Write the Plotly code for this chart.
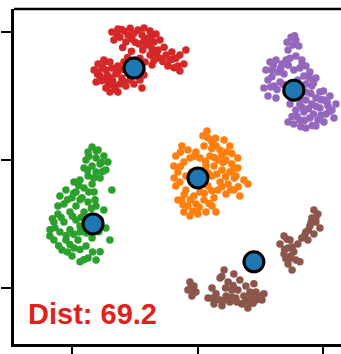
import plotly.graph_objects as go

# ---- cluster members (x, y) ----
red_x = [-3.43, -3.19, -2.95, -3.11, -3.35, -2.79, -2.87, -2.63, -2.39, -2.15, -1.91, -2.23, -1.99,
         -1.67, -1.75, -1.51, -2.07, -2.35, -1.83, -1.59, -1.35, -1.27, -1.04, -1.12, -0.88, -0.72,
         -0.56, -0.80, -1.20, -1.51, -1.91, -2.11, -2.31, -1.83, -0.72, -0.48, -4.14, -3.98, -3.75,
         -3.51, -3.90, -3.67, -3.43, -3.19, -2.95, -4.06, -3.75, -3.51, -3.27, -3.03, -2.79, -3.67,
         -3.35, -3.11, -2.87, -2.71, -3.19, -3.51, -2.31, -2.15, -2.55, -2.47, -2.23, -3.98, -2.23,
         -3.80, -3.60, -3.40, -3.20, -3.00, -2.60, -2.40, -3.85, -3.30, -2.95, -3.55, -4.00, -3.25,
         -3.05, -2.55, -2.70, -2.50, -2.15, -1.85, -1.95, -2.20, -1.65, -1.40, -1.00, -0.95, -1.75,
         -2.65, -3.00, -2.80, -3.70]
red_y = [5.00, 5.12, 5.04, 4.80, 4.69, 4.88, 4.61, 4.73, 5.08, 5.16, 5.04, 4.88, 4.77,
         4.92, 4.61, 4.69, 4.49, 4.53, 4.34, 4.30, 4.41, 4.10, 4.22, 3.91, 3.98, 4.10,
         3.75, 3.67, 3.67, 3.98, 4.10, 3.83, 3.98, 3.71, 3.48, 4.30, 3.52, 3.75, 3.91,
         3.83, 3.28, 3.52, 3.59, 3.67, 3.83, 3.05, 3.13, 3.20, 3.36, 3.20, 3.44, 2.81,
         2.89, 2.97, 2.89, 3.13, 2.66, 2.66, 3.13, 3.32, 2.97, 3.91, 3.52, 3.44, 2.81,
         3.60, 3.30, 3.10, 3.45, 3.55, 3.30, 3.70, 3.10, 2.75, 3.05, 2.95, 3.35, 4.95,
         5.10, 4.95, 5.15, 4.60, 4.65, 4.85, 4.50, 4.30, 4.15, 3.85, 3.95, 3.60, 3.90,
         4.25, 4.40, 4.00, 3.85]

purple_x = [3.71, 3.90, 3.78, 4.02, 3.59, 2.87, 3.11, 3.35, 2.71, 2.95, 3.19, 3.51, 3.67, 3.90,
            4.14, 4.30, 4.06, 3.82, 3.43, 2.79, 2.63, 3.03, 3.27, 2.79, 3.11, 3.51, 4.22, 4.46,
            4.70, 4.54, 4.30, 4.86, 4.70, 5.02, 5.26, 5.50, 5.34, 5.10, 4.86, 4.54, 4.30, 4.06,
            3.90, 4.22, 4.46, 4.78, 5.02, 4.06, 3.82, 4.30, 4.70, 4.06, 3.67, 5.18, 5.42, 3.98,
            4.30, 3.75, 3.59,
            3.55, 3.85, 3.00, 3.30, 3.60, 4.15, 4.45, 4.60, 2.95, 3.15, 3.40, 4.10, 4.50, 4.90,
            5.15, 4.70, 4.40, 4.15, 3.95, 4.25, 4.60, 4.90, 5.25, 4.55, 4.10, 3.75, 5.00, 2.90]
purple_y = [4.80, 4.69, 4.49, 4.45, 4.30, 3.83, 3.91, 3.75, 3.52, 3.52, 3.44, 3.91, 3.98, 4.06,
            3.91, 3.67, 3.59, 3.52, 3.36, 3.13, 2.81, 2.89, 3.05, 2.50, 2.42, 2.66, 3.28, 3.44,
            3.20, 2.89, 2.97, 2.66, 2.42, 2.34, 2.50, 2.19, 1.95, 1.80, 2.03, 2.19, 2.34, 2.19,
            1.95, 1.88, 1.64, 1.56, 1.48, 1.56, 1.41, 1.25, 1.33, 2.42, 2.19, 2.11, 1.64, 3.13,
            2.66, 2.81, 1.48,
            4.60, 4.85, 3.70, 3.60, 3.70, 3.75, 3.20, 3.00, 3.25, 2.75, 2.95, 2.85, 2.60, 2.35,
            2.25, 2.10, 2.00, 2.05, 1.70, 1.55, 1.80, 1.75, 1.90, 1.35, 1.30, 1.70, 2.70, 2.85]

orange_x = [0.36, 0.40, 0.56, 0.72, 0.88, 1.12, 0.24, -0.08, -0.40, -0.64, -0.88, -0.96, -0.80,
            -0.56, -0.32, 0.08, 0.48, 0.80, 1.12, 1.35, 1.59, 1.51, 1.83, 1.27, 0.96, 0.64, 0.32,
            0.56, 0.88, 1.20, 1.43, 1.12, 0.80, 0.40, 0.08, -0.16, -0.48, -0.72, -0.88, -0.64,
            -0.40, -0.08, 0.24, 0.56, 0.32, 0.00, -0.32, -0.56, 0.64, 1.67, 1.99, 0.72, -0.24,
            -0.48, 1.59, 1.27, 1.04, -0.80,
            0.20, 0.55, 0.95, 1.35, 0.30, 0.65, 1.00, 1.40, 1.10, 0.75, 0.40, -0.70, -0.70, -0.15,
            0.95, 1.30, 0.55, 0.25, -0.30, -0.60, 0.05, 0.45, -0.20, 1.60, 1.45, -0.55, -0.95, 0.70]
orange_y = [1.13, 0.86, 0.70, 0.55, 0.39, 0.31, 0.55, 0.31, 0.39, 0.55, 0.16, -0.23, -0.47,
            -0.08, 0.08, 0.08, 0.16, 0.00, 0.00, -0.16, -0.31, -0.63, -0.78, -0.47, -0.39, -0.23,
            -0.23, -0.63, -0.86, -0.94, -1.17, -1.33, -1.17, -1.02, -1.25, -1.41, -1.17, -0.86,
            -1.02, -1.56, -1.80, -1.72, -1.56, -1.80, -2.03, -2.11, -2.19, -2.03, -1.48, -1.41,
            -0.94, -2.03, -0.47, -0.63, 0.08, 0.55, 0.78, -1.56,
            0.95, 0.45, 0.20, 0.25, -0.05, 0.10, -0.10, -0.40, -0.65, -0.55, -0.50, -0.25, 0.30, 0.15,
            -1.05, -1.15, -1.20, -1.30, -1.55, -1.75, -1.85, -1.70, -2.00, -1.05, -0.70, -1.35, -0.70, 0.85]

green_x = [-4.22, -3.98, -4.38, -3.75, -4.06, -4.46, -3.59, -3.90, -4.22, -4.54, -3.67, -4.06,
           -4.38, -4.70, -3.90, -4.94, -4.22, -4.54, -5.26, -4.86, -4.14, -5.02, -5.50, -4.62,
           -4.38, -5.34, -4.86, -4.06, -5.10, -5.58, -4.54, -4.22, -5.74, -5.34, -4.86, -4.46,
           -3.90, -5.90, -5.50, -5.10, -4.70, -3.67, -5.74, -5.26, -4.78, -4.22, -3.51, -5.42,
           -4.94, -4.46, -5.02, -4.70, -4.38, -4.06, -3.90, -5.90, -3.75, -4.70, -3.43, -5.58,
           -4.05, -4.35, -3.85, -4.40, -4.15, -4.75, -4.35, -4.95, -5.20, -4.70, -4.10, -5.00,
           -4.65, -5.45, -5.70, -5.25, -4.95, -4.45, -5.55, -5.10, -4.70, -4.20, -5.20, -4.55,
           -3.95, -5.80, -4.25, -3.80]
green_y = [0.51, 0.39, 0.31, 0.16, 0.08, 0.00, -0.08, -0.16, -0.23, -0.31, -0.39, -0.47,
           -0.63, -0.78, -0.70, -0.86, -0.94, -1.09, -1.17, -1.25, -1.25, -1.48, -1.41, -1.48,
           -1.64, -1.72, -1.80, -1.80, -2.03, -2.11, -2.03, -2.19, -2.42, -2.42, -2.34, -2.50,
           -2.34, -2.73, -2.81, -2.73, -2.81, -2.66, -3.13, -3.13, -3.13, -3.05, -3.13, -3.52,
           -3.44, -3.36, -3.75, -3.98, -3.83, -3.91, -3.59, -2.97, -1.95, -2.58, -1.17, -1.80,
           0.35, 0.15, -0.10, -0.40, -0.70, -1.00, -1.25, -1.30, -1.55, -1.55, -1.55, -2.20,
           -2.25, -2.25, -2.65, -2.95, -2.90, -2.85, -3.35, -3.30, -3.50, -3.60, -3.60, -3.90,
           -2.80, -2.30, -1.90, -0.45]

brown_x = [4.62, 4.78, 4.54, 4.70, 4.46, 4.86, 4.30, 4.62, 4.14, 4.38, 3.98, 3.43, 3.67, 3.27,
           3.59, 3.82, 3.43, 3.67, 3.90, 3.59, 3.75, 4.06, -0.32, -0.16, -0.40, -0.08, -0.24,
           1.04, 0.88, 1.20, 1.43, 1.67, 1.91, 1.59, 0.56, 0.72, 0.40, 0.88, 1.12, 0.64, 0.96,
           1.27, 1.51, 1.83, 2.07, 1.75, 2.07, 2.31, 2.55, 2.31, 1.99, 2.63, 2.23, 1.35,
           4.70, 4.50, 4.40, 4.25, 3.55, 3.45, 3.75, 3.70, 3.50, -0.30, -0.20, 1.10, 1.35, 1.00,
           0.75, 1.55, 1.95, 2.15, 2.45, 1.80, 2.20, 0.55, 1.40, 0.95]
brown_y = [-1.95, -2.11, -2.27, -2.42, -2.58, -2.66, -2.81, -2.89, -3.05, -3.13, -3.28, -2.97,
           -3.13, -3.28, -3.44, -3.59, -3.67, -3.83, -3.91, -4.06, -4.30, -3.98, -4.77, -4.92,
           -5.08, -5.16, -5.31, -4.30, -4.61, -4.77, -4.45, -4.69, -4.92, -5.08, -5.00, -5.23,
           -5.39, -5.47, -5.31, -5.63, -5.70, -5.55, -5.39, -5.31, -5.16, -5.63, -5.55, -5.47,
           -5.47, -5.16, -5.78, -5.23, -4.84, -5.08,
           -2.25, -2.45, -2.75, -2.95, -3.10, -3.50, -3.40, -3.75, -3.85, -5.00, -5.20, -5.00, -5.35, -5.50,
           -5.45, -5.55, -5.40, -5.35, -5.30, -5.60, -5.60, -5.40, -4.90, -4.55]

# ---- cluster centres ----
centre_x = [-2.55, 3.82, 0.00, -4.18, 2.23]
centre_y = [3.59, 2.73, -0.70, -2.50, -3.98]

distance_label = "Dist: 69.2"

clusters = [
    (red_x, red_y, "#d62728"),
    (purple_x, purple_y, "#9467bd"),
    (orange_x, orange_y, "#ff7f0e"),
    (green_x, green_y, "#2ca02c"),
    (brown_x, brown_y, "#8c564b"),
]

fig = go.Figure()
for xs, ys, col in clusters:
    fig.add_trace(go.Scatter(
        x=xs, y=ys, mode="markers",
        marker=dict(size=7.5, color=col, line=dict(width=0)),
        hoverinfo="skip", showlegend=False,
    ))

fig.add_trace(go.Scatter(
    x=centre_x, y=centre_y, mode="markers",
    marker=dict(size=20, color="#1f77b4", line=dict(width=3, color="black")),
    showlegend=False,
))

axis_common = dict(
    showgrid=False, zeroline=False, showticklabels=False,
    showline=True, linecolor="black", linewidth=2.5,
    ticks="outside", ticklen=10, tickwidth=2, tickcolor="black",
)

fig.update_layout(
    width=341, height=354,
    margin=dict(l=14, r=0, t=9, b=10),
    paper_bgcolor="white", plot_bgcolor="white",
    xaxis=dict(range=[-7.33, 5.70], tickvals=[-5, 0, 5], **axis_common),
    yaxis=dict(range=[-7.19, 5.90], tickvals=[-5, 0, 5], **axis_common),
    shapes=[dict(type="line", xref="paper", yref="paper", x0=0, x1=1, y0=1, y1=1,
                 line=dict(color="black", width=2.5))],
    annotations=[dict(
        text=f"<b>{distance_label}</b>", xref="paper", yref="paper",
        x=0.037, y=0.09, xanchor="left", yanchor="middle", showarrow=False,
        font=dict(family="Liberation Sans, Arial, Helvetica", size=29, color="#e0221b"),
    )],
)

fig.write_html("out.html")
